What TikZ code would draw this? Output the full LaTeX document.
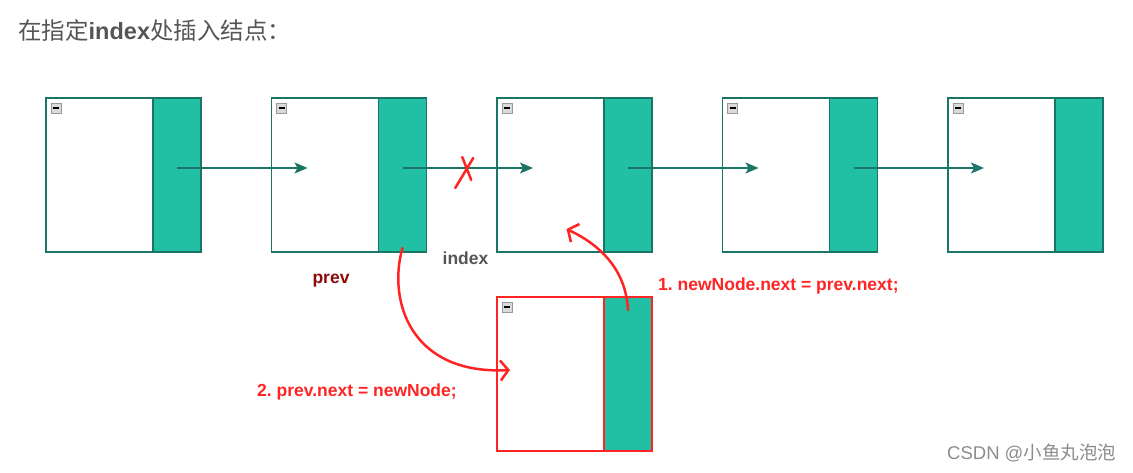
\documentclass[tikz,border=0pt]{standalone}
\usepackage{fontspec}
\setmainfont{Liberation Sans}
\newfontfamily\cjk{Noto Sans CJK SC}
\usetikzlibrary{positioning,calc,arrows.meta}
\frenchspacing
\definecolor{tealfill}{HTML}{21BFA4}
\definecolor{tealline}{HTML}{1B7566}
\definecolor{markred}{HTML}{FF2424}
\definecolor{prevred}{HTML}{8B0A0A}
\definecolor{txtgray}{HTML}{555555}
\def\cw{107pt}
\def\nw{48pt}
\def\ch{154pt}
\tikzstyle{cell}=[draw=tealline,line width=1.5pt,fill=white,minimum width=\cw,minimum height=\ch,inner sep=0pt,outer sep=0pt]
\tikzstyle{nextcell}=[cell,fill=tealfill,minimum width=\nw]
\tikzstyle{icon}=[draw=gray!80,fill=gray!30,line width=0.8pt,minimum size=10pt,inner sep=0pt,font=\fontsize{6}{6}\selectfont]
\tikzstyle{link}=[-{Stealth[length=13pt,width=11pt,inset=3pt]},draw=tealline,line width=1.6pt]
\tikzstyle{redlink}=[-{Straight Barb[length=8pt,width=20pt]},draw=markred,line width=2.5pt,line cap=round]
\tikzstyle{cross}=[draw=markred,line width=2.5pt,line cap=round]
\tikzstyle{lbl}=[inner sep=0pt,font=\fontsize{17.5}{21}\selectfont\bfseries]
\newcommand{\newCell}[3]{\node[cell,draw=#3,#2](#1){};
  \node[nextcell,draw=#3,right=0pt of #1](#1n){};
  \node[icon](#1i) at ([xshift=10pt,yshift=-10pt]#1.north west){\rule{6pt}{1.8pt}};}
\newcommand{\newLink}[2]{\draw[link] ([yshift=7pt]#1n.center) -- ([xshift=36pt,yshift=7pt]#2.west);}

\begin{document}
\begin{tikzpicture}[x=1pt,y=-1pt]
  \useasboundingbox (0,0) rectangle (1133,472);
  % title
  \node[inner sep=0pt,anchor=base west,text=txtgray,font=\fontsize{23.5}{28}\selectfont] (title) at (18,39)
    {{\cjk 在指定}{\bfseries index}{\cjk 处插入结点：}};
  % the list
  \newCell{c1}{anchor=north west,at={(46,98)}}{tealline}
  \newCell{c2}{right=70.5pt of c1n}{tealline}
  \newCell{c3}{right=70.5pt of c2n}{tealline}
  \newCell{c4}{right=70.5pt of c3n}{tealline}
  \newCell{c5}{right=70.5pt of c4n}{tealline}
  \newLink{c1}{c2}
  \newLink{c2}{c3}
  \newLink{c3}{c4}
  \newLink{c4}{c5}
  % cut link
  \coordinate (cut) at ($(c2n.east)!0.5!(c3.west)$);
  \draw[cross] (cut) ++(-6.5,13) -- ++(18,-30);
  \draw[cross] (cut) ++(0.5,-18) -- ++(9,23);
  % new node
  \newCell{new}{below=45pt of c3}{markred}
  % labels
  \node[lbl,anchor=base,text=prevred] (prev) at (331,283) {prev};
  \node[lbl,anchor=base,text=txtgray] (index) at (465.5,264) {index};
  \node[lbl,anchor=base west,text=markred] (step1) at (658,290) {1. newNode.next = prev.next;};
  \node[lbl,anchor=base west,text=markred] (step2) at (257,396) {2. prev.next = newNode;};
  % red arrows
  \draw[redlink] ([yshift=-13pt]newn.north) .. controls +(-2,-40) and +(34,16) .. ([xshift=16pt,yshift=23pt]c3.south);
  \draw[redlink] ([yshift=4pt]c2n.south) .. controls +(-15,52) and +(-100,5) .. ([xshift=13pt,yshift=4pt]new.west);
  % watermark
  \node[inner sep=0pt,anchor=base west,text=black!45,font=\fontsize{18.5}{22}\selectfont] (mark) at (947,459) {CSDN @{\cjk 小鱼丸泡泡}};
\end{tikzpicture}
\end{document}
